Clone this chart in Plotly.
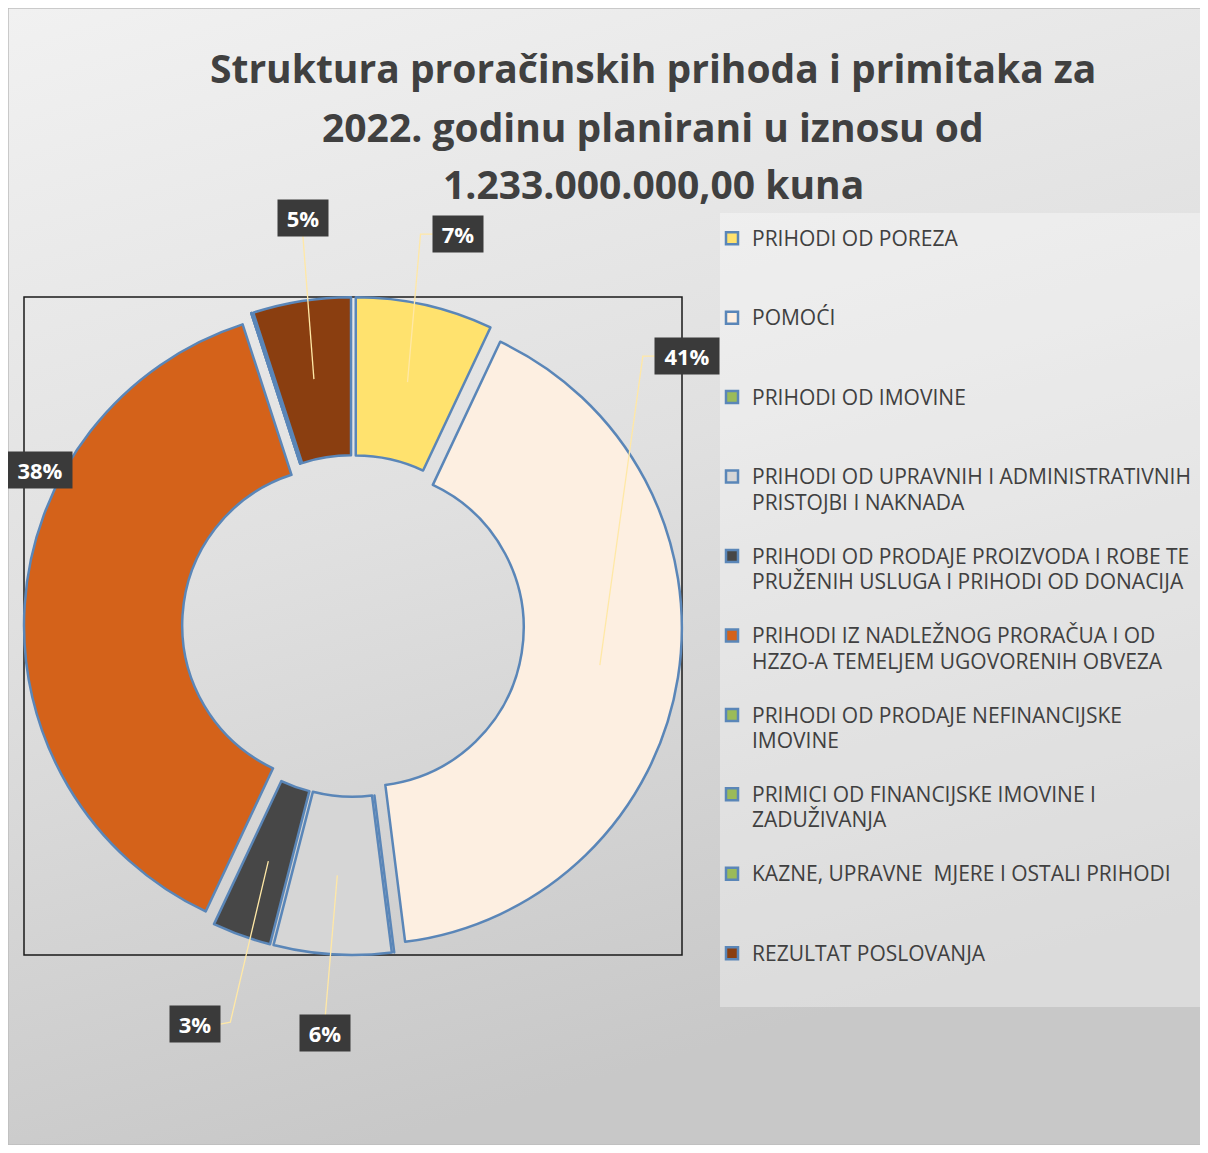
import math
import base64
import plotly.graph_objects as go

# ---------------- data ----------------
labels = [
    "PRIHODI OD POREZA",
    "POMOĆI",
    "PRIHODI OD IMOVINE",
    "PRIHODI OD UPRAVNIH I ADMINISTRATIVNIH<br>PRISTOJBI I NAKNADA",
    "PRIHODI OD PRODAJE PROIZVODA I ROBE TE<br>PRUŽENIH USLUGA I PRIHODI OD DONACIJA",
    "PRIHODI IZ NADLEŽNOG PRORAČUA I OD<br>HZZO-A TEMELJEM UGOVORENIH OBVEZA",
    "PRIHODI OD PRODAJE NEFINANCIJSKE<br>IMOVINE",
    "PRIMICI OD FINANCIJSKE IMOVINE I<br>ZADUŽIVANJA",
    "KAZNE, UPRAVNE  MJERE I OSTALI PRIHODI",
    "REZULTAT POSLOVANJA",
]
shares = [7, 41, 0, 6, 3, 38, 0, 0, 0, 5]   # percent of 1.233.000.000,00 kn
colors = ["#FFE26E", "#FDEFE1", "#9BBB59", "#D6D6D6", "#474747",
          "#D4621A", "#9BBB59", "#9BBB59", "#9BBB59", "#8A3E10"]
title_lines = [
    "Struktura proračinskih prihoda i primitaka za",
    "2022. godinu planirani u iznosu od",
    "1.233.000.000,00 kuna",
]

# ---------------- geometry / style ----------------
W, H = 1200, 1137
OX, OY = 8, 8          # page offset of the figure


def px(sx):
    return (sx - OX) / W


def py(sy):
    return 1 - (sy - OY) / H


HOLE = 0.5
PULL = 0.04
dom_x = [px(24), px(682)]
dom_y = [py(955), py(297)]
FONT = "Open Sans"

# legend entries: glyphs at 21px, line pitch from a 19.6px base, padded to 3 lines
legend_names = []
for lab in labels:
    lines = lab.split("<br>")
    lines += ["\u00a0"] * (3 - len(lines))
    legend_names.append("<br>".join(
        f"<span style='font-size:21px'>{ln}</span>" for ln in lines))

fig = go.Figure()
fig.add_trace(go.Pie(
    labels=legend_names,
    values=shares,
    hole=HOLE,
    pull=[PULL] * len(shares),
    sort=False,
    direction="clockwise",
    rotation=0,
    textinfo="none",
    hovertemplate="%{percent}<extra></extra>",
    marker=dict(colors=colors, line=dict(color="#5A86B8", width=2.5)),
    domain=dict(x=dom_x, y=dom_y),
    showlegend=True,
))

# ---- data labels with elbow leader lines, anchored at slice mid-angles ----
# page-pixel centre and radius of the donut (derived from the pie domain)
box_w = (dom_x[1] - dom_x[0]) * W
box_h = (dom_y[1] - dom_y[0]) * H
r = min(box_w, box_h) / (2 + 2 * PULL)
r_anchor = r * (1 + HOLE) / 2 + PULL * r
cx_pg = OX + (dom_x[0] + dom_x[1]) / 2 * W
cy_pg = OY + (1 - (dom_y[0] + dom_y[1]) / 2) * H
# label placement: offset (px) of label centre from anchor, leader style
label_style = {0: (50, -148, "left"), 1: (87, -309, "left"),
               3: (-12, 158, "straight"), 4: (-73, 163, "right"),
               5: (-64, -140, None), 9: (-11, -161, "straight")}
total = sum(shares)
cum = 0.0
leader_shapes = []
for i, v in enumerate(shares):
    mid = (cum + v / 2) / total * 2 * math.pi
    cum += v
    if v <= 0:
        continue
    dx, dy, style = label_style[i]
    ax_pg = cx_pg + r_anchor * math.sin(mid)
    ay_pg = cy_pg - r_anchor * math.cos(mid)
    lx, ly = ax_pg + dx, ay_pg + dy
    pct = round(v / total * 100)
    bw = 62 if pct >= 10 else 48
    half_w, half_h = bw / 2 + 1, 18
    fig.add_annotation(
        x=px(ax_pg), y=py(ay_pg), xref="paper", yref="paper",
        xshift=dx, yshift=-dy, xanchor="center", yanchor="middle",
        showarrow=False,
        text=f"<b>{pct}%</b>",
        font=dict(family=FONT, size=22, color="white"),
        bgcolor="#3A3A3A", borderpad=1, width=bw, height=34,
    )
    if style is None:
        continue
    if style == "left":
        end = (lx - half_w, ly)
        pts = [(ax_pg, ay_pg), (end[0] - 12, ly), end]
    elif style == "right":
        end = (lx + half_w, ly)
        pts = [(ax_pg, ay_pg), (end[0] + 10, ly - 2), end]
    else:
        end = (lx, ly + (half_h if ly < ay_pg else -half_h))
        pts = [(ax_pg, ay_pg), end]
    path = "M " + " L ".join(f"{px(a):.5f},{py(b):.5f}" for a, b in pts)
    leader_shapes.append(dict(type="path", xref="paper", yref="paper", path=path,
                              line=dict(color="#FFE8A6", width=1.3), layer="above"))

# ---- title (three centred lines) ----
for line, sy in zip(title_lines, [68, 126, 184]):
    fig.add_annotation(
        x=px(653), y=py(sy), xref="paper", yref="paper",
        xanchor="center", yanchor="middle", showarrow=False,
        text=f"<b>{line}</b>",
        font=dict(family=FONT, size=39, color="#404040"),
    )

# background gradient (svg data uri)
svg = ("<svg xmlns='http://www.w3.org/2000/svg' viewBox='0 0 100 100' "
       "preserveAspectRatio='none'><defs><linearGradient id='g' x1='0' y1='0' "
       "x2='0.3' y2='1'><stop offset='0' stop-color='#F1F1F1'/>"
       "<stop offset='0.5' stop-color='#E0E0E0'/>"
       "<stop offset='1' stop-color='#C8C8C8'/></linearGradient></defs>"
       "<rect width='100' height='100' fill='url(#g)'/></svg>")
src = "data:image/svg+xml;base64," + base64.b64encode(svg.encode()).decode()

fig.update_layout(
    width=W, height=H,
    margin=dict(l=0, r=0, t=0, b=0),
    paper_bgcolor="#E2E2E2",
    images=[dict(source=src, xref="paper", yref="paper", x=0, y=1,
                 sizex=1, sizey=1, xanchor="left", yanchor="top",
                 sizing="stretch", layer="below")],
    shapes=[
        # legend backdrop
        dict(type="rect", xref="paper", yref="paper",
             x0=px(720), x1=1.0, y0=py(1007), y1=py(213),
             fillcolor="rgba(255,255,255,0.35)", line=dict(width=0), layer="below"),
        # plot-area frame
        dict(type="rect", xref="paper", yref="paper",
             x0=dom_x[0], x1=dom_x[1], y0=dom_y[0], y1=dom_y[1],
             line=dict(color="#1A1A1A", width=1.5), layer="below"),
        # outer frame
        dict(type="rect", xref="paper", yref="paper", x0=0, x1=1, y0=0, y1=1,
             line=dict(color="#BDBDBD", width=1.5), layer="above"),
    ] + leader_shapes,
    legend=dict(
        x=px(712), y=py(219), xanchor="left", yanchor="top",
        font=dict(family=FONT, size=19.6, color="#404040"),
        valign="top", bgcolor="rgba(0,0,0,0)", traceorder="normal",
    ),
)

fig.write_html("out.html")
